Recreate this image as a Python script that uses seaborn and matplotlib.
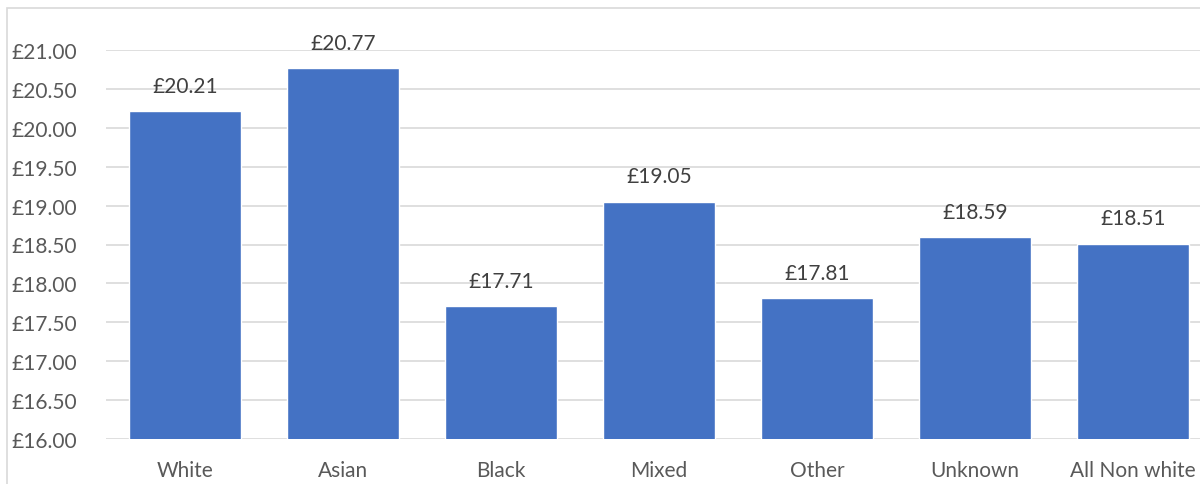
import pandas as pd
import matplotlib.pyplot as plt
import matplotlib.patches as mpatches
import seaborn as sns

# data
groups = ["White", "Asian", "Black", "Mixed", "Other", "Unknown", "All Non white"]
pay = [20.21, 20.77, 17.71, 19.05, 17.81, 18.59, 18.51]
yticks = [16.0, 16.5, 17.0, 17.5, 18.0, 18.5, 19.0, 19.5, 20.0, 20.5, 21.0]

df = pd.DataFrame({"group": groups, "pay": pay})

sns.set_theme(style="white")
plt.rcParams["font.family"] = ["Lato", "DejaVu Sans"]

fig = plt.figure(figsize=(12, 4.85), dpi=100)
# chart border (cropped by the image edges)
fig.patches.append(mpatches.Rectangle((7 / 1200, -0.1), 1.2, (485 - 9) / 485 + 0.1,
                                      transform=fig.transFigure, fill=False,
                                      edgecolor="#D9D9D9", linewidth=1.2))

ax = fig.add_axes([106 / 1200, 45 / 485, 1106 / 1200, 389 / 485])

sns.barplot(data=df, x="group", y="pay", color="#4472C4", saturation=1,
            width=0.71, ax=ax, zorder=3)

ax.set_ylim(16, 21)
ax.set_xlim(-0.5, 6.5)
ax.set_yticks(yticks)
ax.set_yticklabels([f"£{v:.2f}" for v in yticks])
ax.yaxis.grid(True, color="#D9D9D9", linewidth=1.2, zorder=0)
ax.set_axisbelow(True)
for s in ax.spines.values():
    s.set_visible(False)
ax.tick_params(axis="both", length=0, labelsize=15, colors="#595959")
ax.tick_params(axis="y", pad=21)
ax.tick_params(axis="x", pad=15)
ax.set_xlabel("")
ax.set_ylabel("")

for i, v in enumerate(pay):
    ax.annotate(f"£{v:.2f}", (i, v), xytext=(0, 11), textcoords="offset points",
                ha="center", va="bottom", fontsize=15, color="#404040")

fig.savefig("out.png", dpi=100)
